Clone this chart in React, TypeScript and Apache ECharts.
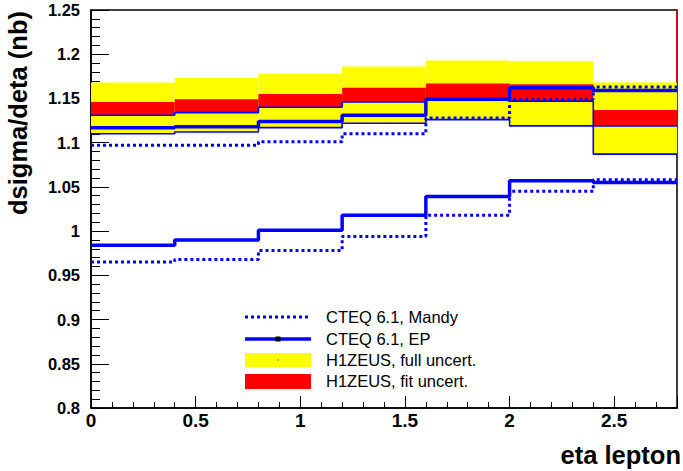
import { useEffect, useRef } from "react";
import * as echarts from "echarts";

// Bin edges in eta (lepton pseudorapidity)
const binEdges = [0, 0.4, 0.8, 1.2, 1.6, 2.0, 2.4, 2.8];

// CTEQ 6.1 predictions, two sets each (upper and lower curves)
const mandyUpper = [1.097, 1.097, 1.101, 1.110, 1.128, 1.149, 1.163];
const epUpper = [1.117, 1.118, 1.124, 1.131, 1.149, 1.162, 1.159];
const mandyLower = [0.965, 0.968, 0.978, 0.994, 1.018, 1.045, 1.058];
const epLower = [0.984, 0.990, 1.001, 1.018, 1.039, 1.057, 1.055];

// H1ZEUS uncertainty bands
const fullHigh = [1.168, 1.173, 1.178, 1.186, 1.193, 1.192, 1.168];
const fullLow = [1.110, 1.112, 1.117, 1.122, 1.126, 1.119, 1.087];
const fitHigh = [1.146, 1.149, 1.155, 1.162, 1.167, 1.166, 1.137];
const fitLow = [1.131, 1.134, 1.140, 1.146, 1.149, 1.147, 1.119];

// Axis ranges and tick spacing
const xRange = [0, 2.8];
const yRange = [0.8, 1.25];
const xMajor = 0.5;
const xMinor = 0.1;
const yMajor = 0.05;

const legendLabels = [
  "CTEQ 6.1, Mandy",
  "CTEQ 6.1, EP",
  "H1ZEUS, full uncert.",
  "H1ZEUS, fit uncert.",
];

const FONT = '"Liberation Sans", Arial, Helvetica, sans-serif';
const BLUE = "#0000ff";

function stepPoints(values: number[]) {
  const pts = values.map((v, i) => [binEdges[i], v]);
  pts.push([binEdges[binEdges.length - 1], values[values.length - 1]]);
  return pts;
}

function bandItems(low: number[], high: number[]) {
  return low.map((lo, i) => [binEdges[i], binEdges[i + 1], lo, high[i]]);
}

function fmt(v: number) {
  return String(+v.toFixed(2));
}

function bandSeries(low: number[], high: number[], color: string, z: number) {
  return {
    type: "custom",
    z,
    clip: true,
    encode: { x: [0, 1], y: [2, 3] },
    data: bandItems(low, high),
    renderItem: (_params: any, api: any) => {
      const p0 = api.coord([api.value(0), api.value(3)]);
      const p1 = api.coord([api.value(1), api.value(2)]);
      return {
        type: "rect",
        shape: { x: p0[0], y: p0[1], width: p1[0] - p0[0], height: p1[1] - p0[1] },
        style: { fill: color, stroke: null },
      };
    },
  };
}

function stepSeries(values: number[], width: number, dashed: boolean, z: number) {
  return {
    type: "line",
    step: "end",
    z,
    symbol: "none",
    showSymbol: false,
    clip: true,
    data: stepPoints(values),
    lineStyle: {
      color: BLUE,
      width,
      type: dashed ? [3, 3] : "solid",
      cap: "butt",
    },
  };
}

export default function App() {
  const ref = useRef<HTMLDivElement>(null);

  useEffect(() => {
    if (!ref.current) return;
    const chart = echarts.init(ref.current, null, { renderer: "svg" });

    const legendX = 245;
    const legendW = 66;
    const rows = [317, 339, 360, 381];
    const textX = 326;

    const legendGraphics: any[] = [
      {
        type: "line",
        shape: { x1: legendX, y1: rows[0], x2: legendX + legendW, y2: rows[0] },
        style: { stroke: BLUE, lineWidth: 3, lineDash: [3, 3] },
      },
      {
        type: "line",
        shape: { x1: legendX, y1: rows[1], x2: legendX + legendW, y2: rows[1] },
        style: { stroke: BLUE, lineWidth: 3.5 },
      },
      {
        type: "rect",
        shape: { x: legendX + legendW / 2 - 2.5, y: rows[1] - 2.5, width: 5, height: 5 },
        style: { fill: "#000" },
      },
      {
        type: "rect",
        shape: { x: legendX, y: rows[2] - 7, width: legendW, height: 14 },
        style: { fill: "#ffff00" },
      },
      {
        type: "rect",
        shape: { x: legendX + legendW / 2 - 0.5, y: rows[2] - 0.5, width: 1, height: 1 },
        style: { fill: "#000" },
      },
      {
        type: "rect",
        shape: { x: legendX, y: rows[3] - 7, width: legendW, height: 15 },
        style: { fill: "#ff0000" },
      },
      {
        type: "rect",
        shape: { x: legendX + legendW / 2 - 0.5, y: rows[3] - 0.5, width: 1, height: 1 },
        style: { fill: "#000" },
      },
      ...legendLabels.map((t, i) => ({
        type: "text",
        x: textX,
        y: rows[i],
        style: {
          text: t,
          fontFamily: FONT,
          fontSize: 16.5,
          fill: "#000",
          align: "left",
          verticalAlign: "middle",
        },
      })),
    ];

    chart.setOption({
      animation: false,
      backgroundColor: "#fff",
      grid: {
        left: 91,
        right: 6,
        top: 10,
        bottom: 63,
        show: true,
        borderColor: "#000",
        borderWidth: 1.5,
        backgroundColor: "transparent",
      },
      xAxis: [
        {
          type: "value",
          position: "bottom",
          min: xRange[0],
          max: xRange[1],
          interval: xMajor,
          axisLine: { show: true, onZero: false, lineStyle: { color: "#000", width: 1.5 } },
          axisTick: { show: true, inside: true, length: 12, lineStyle: { color: "#000", width: 1 } },
          axisLabel: {
            color: "#000",
            fontFamily: FONT,
            fontSize: 19,
            fontWeight: "bold",
            margin: 3,
            formatter: (v: number) => (v > xRange[1] - 0.01 ? "" : fmt(v)),
          },
          splitLine: { show: false },
        },
        {
          type: "value",
          position: "bottom",
          min: xRange[0],
          max: xRange[1],
          interval: xMinor,
          axisLine: { show: false, onZero: false },
          axisTick: { show: true, inside: true, length: 6, lineStyle: { color: "#000", width: 1 } },
          axisLabel: { show: false },
          splitLine: { show: false },
        },
      ],
      yAxis: {
        type: "value",
        min: yRange[0],
        max: yRange[1],
        interval: yMajor,
        axisLine: { show: true, onZero: false, lineStyle: { color: "#000", width: 1.5 } },
        axisTick: { show: true, inside: true, length: 18, lineStyle: { color: "#000", width: 1 } },
        minorTick: { show: true, splitNumber: 5, length: 9, lineStyle: { color: "#000", width: 1 } },
        axisLabel: {
          color: "#000",
          fontFamily: FONT,
          fontSize: 16.5,
          fontWeight: "bold",
          margin: 11,
          formatter: (v: number) => fmt(v),
        },
        splitLine: { show: false },
        minorSplitLine: { show: false },
      },
      series: [
        bandSeries(fullLow, fullHigh, "#ffff00", 1),
        bandSeries(fitLow, fitHigh, "#ff0000", 2),
        stepSeries(fitLow, 1.6, false, 3),
        stepSeries(fullLow, 1.6, false, 3),
        stepSeries(mandyUpper, 3, true, 4),
        stepSeries(mandyLower, 3, true, 4),
        stepSeries(epUpper, 3.5, false, 5),
        stepSeries(epLower, 3.5, false, 5),
        {
          type: "line",
          z: 6,
          symbol: "none",
          clip: false,
          data: [
            [xRange[1], yRange[1]],
            [xRange[1], fullHigh[fullHigh.length - 1]],
          ],
          lineStyle: { color: "#ff0000", width: 1.5 },
        },
      ],
      graphic: [
        {
          type: "text",
          x: 18,
          y: 11,
          rotation: Math.PI / 2,
          style: {
            text: "dsigma/deta (nb)",
            fontFamily: FONT,
            fontSize: 25.5,
            fontWeight: "bold",
            fill: "#000",
            align: "right",
            verticalAlign: "middle",
          },
        },
        {
          type: "text",
          x: 681,
          y: 455,
          style: {
            text: "eta lepton",
            fontFamily: FONT,
            fontSize: 25.5,
            fontWeight: "bold",
            fill: "#000",
            align: "right",
            verticalAlign: "middle",
          },
        },
        ...legendGraphics.map((g) => ({ ...g, z: 100 })),
      ],
    });

    return () => chart.dispose();
  }, []);

  return (
    <div
      ref={ref}
      style={{ position: "fixed", left: 0, top: 0, width: 683, height: 471, background: "#fff" }}
    />
  );
}
